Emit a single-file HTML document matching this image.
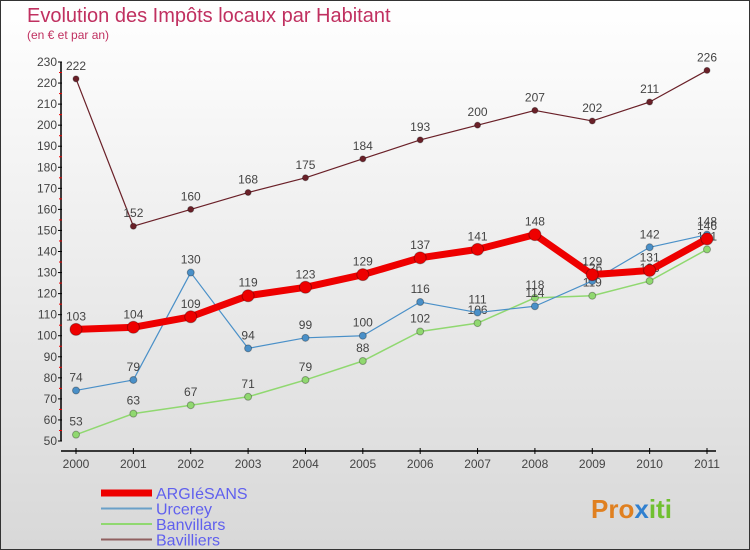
<!DOCTYPE html>
<html><head><meta charset="utf-8"><style>
body{margin:0}
#c{width:748px;height:548px;border:1px solid #333;background:linear-gradient(#fff,#d8d8d8);position:relative;font-family:"Liberation Sans",sans-serif;overflow:hidden}
</style></head><body>
<div id="c">
<svg width="748" height="548" id="s">
<text x="26" y="21" font-size="20" fill="#c03060" font-weight="300">Evolution des Impôts locaux par Habitant</text>
<text x="26" y="38" font-size="12" fill="#c03060">(en € et par an)</text>
<g id="ax"></g><g id="ser"></g>
<text x="590" y="517" font-size="26" font-weight="bold" fill="#e08020">Pro<tspan fill="#3080d0">x</tspan><tspan fill="#70c030">iti</tspan></text>
</svg>
</div>
<script>
const years=["2000","2001","2002","2003","2004","2005","2006","2007","2008","2009","2010","2011"];
const argiesans=[103,104,109,119,123,129,137,141,148,129,131,146];
const urcerey=[74,79,130,94,99,100,116,111,114,126,142,148];
const banvillars=[53,63,67,71,79,88,102,106,118,119,126,141];
const bavilliers=[222,152,160,168,175,184,193,200,207,202,211,226];
const yTicks=[50,60,70,80,90,100,110,120,130,140,150,160,170,180,190,200,210,220,230];
const NS="http://www.w3.org/2000/svg";
const X=i=>75+i*(631/11);
const Y=v=>440-(v-50)*(379/180);
function mk(t,a,p){const e=document.createElementNS(NS,t);for(const k in a)e.setAttribute(k,a[k]);p.appendChild(e);return e;}
const ax=document.getElementById('ax'),ser=document.getElementById('ser');
let l=mk('line',{x1:60,y1:Y(230),x2:60,y2:Y(50),stroke:'#000','stroke-width':1.5},ax);

l=mk('line',{x1:60,y1:450,x2:715,y2:450,stroke:'#000','stroke-width':1.5},ax);

yTicks.forEach((v,i)=>{
 mk('line',{x1:57,x2:61,y1:Y(v),y2:Y(v),stroke:'#000'},ax);
 if(i<yTicks.length-1)mk('line',{x1:58,x2:61,y1:Y(v+5),y2:Y(v+5),stroke:'#e00'},ax);
 const t=mk('text',{x:56,y:Y(v)+4,'font-size':12,fill:'#444','text-anchor':'end'},ax);t.textContent=v;
 
});
years.forEach((y,i)=>{
 mk('line',{x1:X(i),x2:X(i),y1:447,y2:453,stroke:'#000'},ax);
 const t=mk('text',{x:X(i),y:467,'font-size':12,fill:'#444','text-anchor':'middle'},ax);t.textContent=y;
 
});
function series(d,col,w,r,name){
 const g=mk('g',{},ser);
 mk('polyline',{points:d.map((v,i)=>X(i)+','+Y(v)).join(' '),fill:'none',stroke:col,'stroke-width':w,'stroke-linejoin':'round'},g);
 d.forEach((v,i)=>{
  const c=mk('circle',{cx:X(i),cy:Y(v),r:r,fill:col,stroke:'rgba(0,0,0,0.3)'},g);
  
  const t=mk('text',{x:X(i),y:Y(v)-9,'font-size':12,fill:'#444','text-anchor':'middle'},g);t.textContent=v;
  
 });
}
series(bavilliers,'#6a2028',1.2,3,'bavilliers');
series(banvillars,'#90d870',1.5,3.5,'banvillars');
series(urcerey,'#4a90c8',1.2,3.5,'urcerey');
series(argiesans,'#ee0000',7,6,'argiesans');
const leg=[["ARGIéSANS","#ee0000",7],["Urcerey","#6aa0c8",2],["Banvillars","#90d870",2],["Bavilliers","#906060",2]];
leg.forEach((e,i)=>{
 const y=492+i*15.5;
 const g=mk('g',{},ser);
 mk('line',{x1:100,x2:151,y1:y,y2:y,stroke:e[1],'stroke-width':e[2]},g);
 const t=mk('text',{x:155,y:y+6,'font-size':16,fill:'#6060ee'},g);t.textContent=e[0];
});
</script>
</body></html>
